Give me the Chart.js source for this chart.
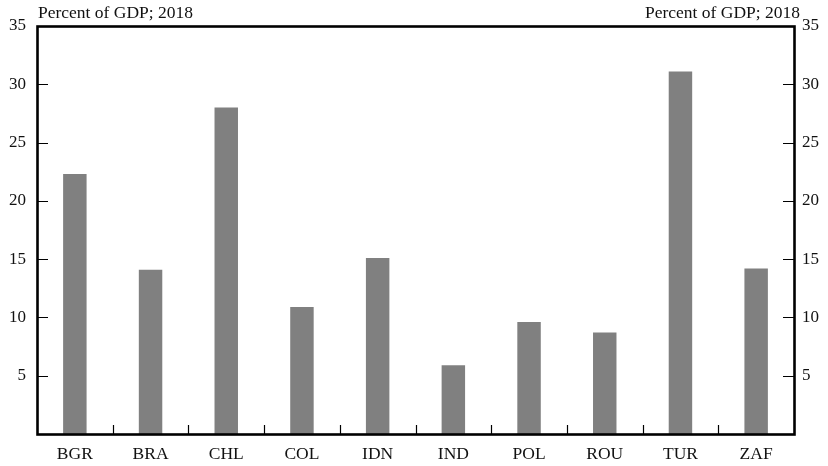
<!DOCTYPE html>
<html>
<head>
<meta charset="utf-8">
<script src="https://cdn.jsdelivr.net/npm/chart.js@4/dist/chart.umd.min.js"></script>
<style>
html,body{margin:0;padding:0;background:#fff;}
#wrap{width:828px;height:466px;position:relative;}
</style>
</head>
<body>
<div id="wrap"><canvas id="c" width="828" height="466"></canvas></div>
<script>
const categories = ["BGR","BRA","CHL","COL","IDN","IND","POL","ROU","TUR","ZAF"];
const values = [22.3, 14.1, 28.0, 10.9, 15.1, 5.9, 9.6, 8.7, 31.1, 14.2];
const yTicks = [5, 10, 15, 20, 25, 30, 35];
const unitLabel = "Percent of GDP; 2018";

const FONT = "'Liberation Serif', 'Times New Roman', serif";

const framePlugin = {
  id: 'frame',
  afterDatasetsDraw(chart) {
    const ctx = chart.ctx;
    const a = chart.chartArea;
    const y = chart.scales.y;
    const x = chart.scales.x;
    ctx.save();
    ctx.strokeStyle = '#000';
    ctx.lineWidth = 1.2;
    y.ticks.forEach(t => {
      if (t.value <= 0 || t.value >= 35) return;
      const py = Math.round(y.getPixelForValue(t.value)) + 0.5;
      ctx.beginPath();
      ctx.moveTo(a.left, py); ctx.lineTo(a.left + 11, py);
      ctx.moveTo(a.right, py); ctx.lineTo(a.right - 11, py);
      ctx.stroke();
    });
    const n = categories.length;
    for (let i = 0; i < n - 1; i++) {
      const px = Math.round((x.getPixelForValue(i) + x.getPixelForValue(i + 1)) / 2) + 0.5;
      ctx.beginPath();
      ctx.moveTo(px, a.bottom); ctx.lineTo(px, a.bottom - 9);
      ctx.stroke();
    }
    ctx.lineWidth = 2.6;
    ctx.strokeRect(a.left + 0.5, a.top + 0.5, a.right - a.left, a.bottom - a.top);
    ctx.fillStyle = '#111';
    ctx.font = "17.5px " + FONT;
    ctx.textBaseline = 'alphabetic';
    ctx.textAlign = 'left';
    ctx.fillText(unitLabel, 38, 18);
    ctx.textAlign = 'right';
    ctx.fillText(unitLabel, 800, 18);
    ctx.restore();
  }
};

const tickFont = { family: FONT, size: 17 };

new Chart(document.getElementById('c'), {
  type: 'bar',
  data: {
    labels: categories,
    datasets: [{
      data: values,
      backgroundColor: '#808080',
      borderWidth: 0,
      barPercentage: 0.31,
      categoryPercentage: 1.0
    }]
  },
  options: {
    responsive: false,
    animation: false,
    devicePixelRatio: 1,
    layout: { padding: { top: 26, bottom: 0, left: 0, right: 0 } },
    plugins: { legend: { display: false }, tooltip: { enabled: false }, title: { display: false } },
    scales: {
      x: {
        position: 'bottom',
        grid: { display: false, drawTicks: false },
        border: { display: false },
        ticks: { color: '#111', font: { family: FONT, size: 17.5 }, padding: 10, maxRotation: 0, autoSkip: false },
        afterFit(s) { s.height = 32; }
      },
      y: {
        position: 'left',
        min: 0, max: 35,
        afterBuildTicks(s) { s.ticks = yTicks.map(v => ({ value: v })); },
        grid: { display: false, drawTicks: false },
        border: { display: false },
        ticks: { color: '#111', font: tickFont, padding: 11, callback: v => String(v) },
        afterFit(s) { s.width = 37; }
      },
      y2: {
        position: 'right',
        min: 0, max: 35,
        afterBuildTicks(s) { s.ticks = yTicks.map(v => ({ value: v })); },
        grid: { display: false, drawTicks: false },
        border: { display: false },
        ticks: { color: '#111', font: tickFont, padding: 8, callback: v => String(v) },
        afterFit(s) { s.width = 34; }
      }
    }
  },
  plugins: [framePlugin]
});
</script>
</body>
</html>
